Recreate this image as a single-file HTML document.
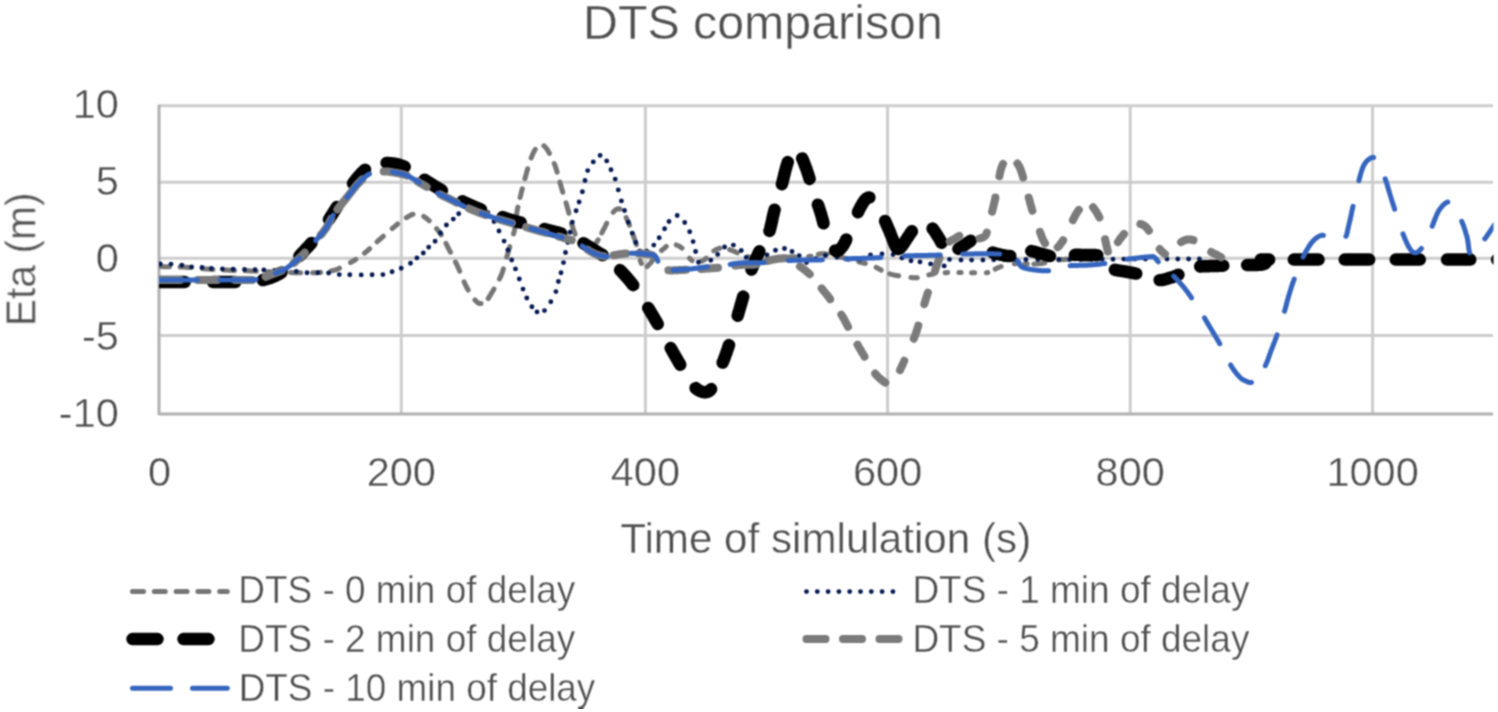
<!DOCTYPE html>
<html><head><meta charset="utf-8"><title>DTS comparison</title>
<style>html,body{margin:0;padding:0;background:#fff;}svg{display:block;}</style></head><body>
<svg width="1498" height="712" viewBox="0 0 1498 712">
<rect width="1498" height="712" fill="#fff"/>
<defs><clipPath id="pc"><rect x="159" y="90" width="1334.5" height="340"/></clipPath><filter id="bl" x="0" y="0" width="1" height="1" color-interpolation-filters="sRGB"><feConvolveMatrix order="3" kernelMatrix="1 2 1 2 4 2 1 2 1" divisor="16" edgeMode="duplicate"/></filter></defs>
<g filter="url(#bl)">
<line x1="159" y1="105.8" x2="1493" y2="105.8" stroke="#cdcdcd" stroke-width="3"/>
<line x1="159" y1="182.3" x2="1493" y2="182.3" stroke="#cdcdcd" stroke-width="3"/>
<line x1="159" y1="258.3" x2="1493" y2="258.3" stroke="#cdcdcd" stroke-width="3"/>
<line x1="159" y1="335.4" x2="1493" y2="335.4" stroke="#cdcdcd" stroke-width="3"/>
<line x1="401.3" y1="105.8" x2="401.3" y2="413.9" stroke="#cdcdcd" stroke-width="3"/>
<line x1="645.4" y1="105.8" x2="645.4" y2="413.9" stroke="#cdcdcd" stroke-width="3"/>
<line x1="887.6" y1="105.8" x2="887.6" y2="413.9" stroke="#cdcdcd" stroke-width="3"/>
<line x1="1130.2" y1="105.8" x2="1130.2" y2="413.9" stroke="#cdcdcd" stroke-width="3"/>
<line x1="1372.6" y1="105.8" x2="1372.6" y2="413.9" stroke="#cdcdcd" stroke-width="3"/>
<line x1="159" y1="413.9" x2="1493" y2="413.9" stroke="#b0b0b0" stroke-width="3"/>
<line x1="159" y1="104.8" x2="159" y2="414.9" stroke="#b0b0b0" stroke-width="3"/>
<text x="583.1" y="38.5" font-family="'Liberation Sans', sans-serif" font-size="48.3" fill="#4f4f4f" text-anchor="start" stroke="#ffffff" stroke-width="0.4" >DTS comparison</text>
<text x="118.8" y="118.0" font-family="'Liberation Sans', sans-serif" font-size="41.5" fill="#4f4f4f" text-anchor="end" stroke="#ffffff" stroke-width="0.4" >10</text>
<text x="118.8" y="195.3" font-family="'Liberation Sans', sans-serif" font-size="41.5" fill="#4f4f4f" text-anchor="end" stroke="#ffffff" stroke-width="0.4" >5</text>
<text x="118.8" y="272.0" font-family="'Liberation Sans', sans-serif" font-size="41.5" fill="#4f4f4f" text-anchor="end" stroke="#ffffff" stroke-width="0.4" >0</text>
<text x="118.8" y="350.0" font-family="'Liberation Sans', sans-serif" font-size="41.5" fill="#4f4f4f" text-anchor="end" stroke="#ffffff" stroke-width="0.4" >-5</text>
<text x="118.8" y="426.8" font-family="'Liberation Sans', sans-serif" font-size="41.5" fill="#4f4f4f" text-anchor="end" stroke="#ffffff" stroke-width="0.4" >-10</text>
<text x="159.6" y="486.3" font-family="'Liberation Sans', sans-serif" font-size="41.5" fill="#4f4f4f" text-anchor="middle" stroke="#ffffff" stroke-width="0.4" >0</text>
<text x="401.3" y="486.3" font-family="'Liberation Sans', sans-serif" font-size="41.5" fill="#4f4f4f" text-anchor="middle" stroke="#ffffff" stroke-width="0.4" >200</text>
<text x="645.4" y="486.3" font-family="'Liberation Sans', sans-serif" font-size="41.5" fill="#4f4f4f" text-anchor="middle" stroke="#ffffff" stroke-width="0.4" >400</text>
<text x="887.6" y="486.3" font-family="'Liberation Sans', sans-serif" font-size="41.5" fill="#4f4f4f" text-anchor="middle" stroke="#ffffff" stroke-width="0.4" >600</text>
<text x="1130.2" y="486.3" font-family="'Liberation Sans', sans-serif" font-size="41.5" fill="#4f4f4f" text-anchor="middle" stroke="#ffffff" stroke-width="0.4" >800</text>
<text x="1372.6" y="486.3" font-family="'Liberation Sans', sans-serif" font-size="41.5" fill="#4f4f4f" text-anchor="middle" stroke="#ffffff" stroke-width="0.4" >1000</text>
<text x="620.2" y="552.5" font-family="'Liberation Sans', sans-serif" font-size="42.6" fill="#4f4f4f" text-anchor="start" stroke="#ffffff" stroke-width="0.4" textLength="411" lengthAdjust="spacingAndGlyphs">Time of simlulation (s)</text>
<text transform="translate(35.4,326.3) rotate(-90)" x="0" y="0" font-family="'Liberation Sans', sans-serif" font-size="42.6" fill="#4f4f4f" stroke="#ffffff" stroke-width="0.4" textLength="133.9" lengthAdjust="spacingAndGlyphs">Eta (m)</text>
<text x="238.2" y="603.2" font-family="'Liberation Sans', sans-serif" font-size="38.7" fill="#4f4f4f" stroke="#ffffff" stroke-width="0.4" textLength="337" lengthAdjust="spacingAndGlyphs">DTS - 0 min of delay</text>
<text x="238.2" y="652.0" font-family="'Liberation Sans', sans-serif" font-size="38.7" fill="#4f4f4f" stroke="#ffffff" stroke-width="0.4" textLength="337" lengthAdjust="spacingAndGlyphs">DTS - 2 min of delay</text>
<text x="238.7" y="700.6" font-family="'Liberation Sans', sans-serif" font-size="38.7" fill="#4f4f4f" stroke="#ffffff" stroke-width="0.4" textLength="356.6" lengthAdjust="spacingAndGlyphs">DTS - 10 min of delay</text>
<text x="912.4" y="603.2" font-family="'Liberation Sans', sans-serif" font-size="38.7" fill="#4f4f4f" stroke="#ffffff" stroke-width="0.4" textLength="337" lengthAdjust="spacingAndGlyphs">DTS - 1 min of delay</text>
<text x="912.4" y="652.0" font-family="'Liberation Sans', sans-serif" font-size="38.7" fill="#4f4f4f" stroke="#ffffff" stroke-width="0.4" textLength="337" lengthAdjust="spacingAndGlyphs">DTS - 5 min of delay</text>
<path d="M132.5,591.6 L227.3,591.6" fill="none" stroke="#767676" stroke-width="5" stroke-dasharray="11 10.8" stroke-linecap="round" stroke-linejoin="round"/>
<path d="M132.5,639.1 L227.3,639.1" fill="none" stroke="#000000" stroke-width="12.5" stroke-dasharray="25 26" stroke-linecap="round" stroke-linejoin="round"/>
<path d="M132.5,688.2 L227.3,688.2" fill="none" stroke="#3565be" stroke-width="5" stroke-dasharray="38 22" stroke-linecap="round" stroke-linejoin="round"/>
<path d="M806.5,591.6 L901.3,591.6" fill="none" stroke="#061a52" stroke-width="4.9" stroke-dasharray="0 10.8" stroke-linecap="round" stroke-linejoin="round"/>
<path d="M806.5,639.1 L901.3,639.1" fill="none" stroke="#7b7b7b" stroke-width="8" stroke-dasharray="19 17.5" stroke-linecap="round" stroke-linejoin="round"/>
<g clip-path="url(#pc)">
<path d="M159.0,266.5L159.7,266.5L160.4,266.6L161.0,266.6L161.8,266.6L162.9,266.6L163.5,266.7L164.2,266.7L165.0,266.7L165.7,266.7L166.4,266.7L167.2,266.7L168.0,266.8L168.9,266.8L169.4,266.8 M180.1,267.0L180.8,267.0L181.9,267.0L183.0,267.1L184.0,267.1L185.1,267.2L186.1,267.2L187.0,267.3L188.0,267.4L189.0,267.4L190.0,267.5L190.9,267.6L191.1,267.6 M202.6,268.7L203.4,268.7L204.4,268.8L205.4,268.9L206.3,269.0L207.3,269.1L208.3,269.1L209.3,269.2L210.3,269.3L211.3,269.3L212.3,269.4L213.0,269.4 M223.9,270.0L224.7,270.0L225.7,270.1L226.7,270.1L227.7,270.1L228.7,270.2L229.7,270.2L230.7,270.3L231.6,270.3L232.6,270.3L233.6,270.4L234.5,270.4 M245.3,270.7L246.3,270.7L247.3,270.8L248.3,270.8L249.3,270.8L250.3,270.9L251.3,270.9L252.3,271.0L253.3,271.0L254.2,271.1L255.2,271.1L256.2,271.2L256.3,271.2 M267.7,271.7L268.7,271.8L269.7,271.8L270.7,271.9L271.7,271.9L272.7,272.0L273.7,272.0L274.7,272.1L275.7,272.1L276.7,272.1L277.7,272.2L278.7,272.2 M290.6,272.6L291.2,272.6L292.2,272.6L293.2,272.7L294.1,272.7L295.1,272.7L296.1,272.7L297.1,272.7L298.2,272.7L299.2,272.8L300.3,272.8L300.6,272.8 M312.6,272.8L313.4,272.8L314.2,272.8L315.1,272.7L315.8,272.7L316.6,272.7L317.3,272.7L318.0,272.6L318.7,272.6L319.3,272.6L320.4,272.5L320.6,272.4 M331.1,270.9L331.8,270.8L332.7,270.6L333.6,270.4L334.5,270.2L335.4,269.9L336.3,269.6L337.2,269.2L338.1,268.9L339.0,268.5L339.5,268.2 M350.5,262.5L351.2,262.2L352.0,261.7L352.8,261.2L353.7,260.7L354.5,260.2L355.4,259.7L355.8,259.4 M364.5,253.1L365.2,252.6L366.0,252.0L366.7,251.3L367.5,250.7L368.2,250.0L368.9,249.4L369.6,248.7 M377.1,241.8L377.5,241.4L378.3,240.7L379.0,240.0L379.8,239.3L380.6,238.7L381.3,238.0L382.0,237.4L382.7,236.8L383.3,236.2 M392.2,228.6L392.7,228.1L393.4,227.5L394.2,226.9L394.9,226.3L395.7,225.7L396.4,225.0L397.1,224.4L397.6,224.0 M406.3,217.7L406.9,217.4L407.7,216.9L408.5,216.4L409.3,216.0L410.0,215.6L410.6,215.3L411.2,215.0L412.0,214.6L412.7,214.3L413.0,214.2 M423.7,216.4L424.4,216.9L425.2,217.4L425.7,217.8L426.3,218.3L426.9,218.7L427.5,219.3L428.2,219.8L428.9,220.5L429.3,220.8 M436.6,228.7L437.2,229.4L437.8,230.2L438.4,231.0L439.0,231.7L439.6,232.5L440.2,233.3L440.7,234.1L441.2,234.8 M446.0,243.4L446.4,244.3L446.9,245.2L447.3,246.1L447.7,247.0L448.2,247.9L448.6,248.7L449.1,249.6L449.5,250.4L450.0,251.3L450.5,252.2L450.5,252.3 M455.5,262.0L455.8,262.6L456.2,263.5L456.7,264.4L457.1,265.3L457.5,266.2L457.9,267.0L458.3,267.9L458.7,268.8L459.1,269.7L459.5,270.6L459.7,271.2 M464.1,281.8L464.4,282.5L464.8,283.4L465.2,284.3L465.6,285.1L466.0,286.0L466.5,286.9L466.9,287.8L467.4,288.6L467.9,289.5L468.2,290.1 M474.9,299.8L475.4,300.4L476.1,301.1L476.7,301.7L477.2,302.3L477.8,302.7L478.5,303.1L479.1,303.3L479.9,303.5L480.7,303.4L481.0,303.4 M488.2,298.5L488.6,297.9L489.2,297.0L489.7,296.1L490.3,295.2L490.8,294.3L491.3,293.4L491.8,292.6L492.3,291.8L492.8,291.0L493.3,290.2L493.8,289.3L493.9,289.1 M499.4,279.1L499.7,278.5L500.1,277.7L500.5,276.8L500.9,275.9L501.3,275.0L501.7,274.1L502.0,273.2L502.4,272.3L502.7,271.4L502.9,270.5L503.2,269.5L503.4,268.9 M506.7,257.2L506.9,256.5L507.2,255.6L507.5,254.7L507.8,253.8L508.0,252.8L508.3,251.9L508.6,251.0L508.8,250.0L509.1,249.1L509.4,248.1L509.7,247.1L509.8,246.6 M513.5,233.9L513.7,233.2L514.0,232.2L514.3,231.0L514.4,230.4L514.5,229.8L514.6,229.0L514.8,228.2L514.9,227.3L515.1,226.4L515.2,225.6 M516.7,213.9L516.8,212.9L517.0,211.9L517.1,211.0L517.3,210.0L517.5,209.0L517.7,208.0L517.9,207.1 M520.1,197.5L520.3,196.6L520.6,195.6L520.8,194.6L521.1,193.6L521.3,192.6L521.5,191.7L521.8,190.8L522.0,189.8L522.3,188.8L522.3,188.7 M524.9,178.7L525.2,177.9L525.4,177.0L525.6,176.1L525.9,175.3L526.1,174.5L526.3,173.7L526.5,173.1L526.6,172.5L526.8,171.9L527.1,170.8L527.4,169.8L527.7,168.8L527.7,168.7 M531.2,158.0L531.5,157.3L531.8,156.4L532.2,155.5L532.5,154.7L532.8,153.9L533.2,153.0L533.7,152.1L534.1,151.3L534.5,150.5L535.0,149.7L535.3,149.3 M543.9,145.8L544.4,146.2L545.0,146.7L545.4,147.2L545.8,147.7L546.3,148.3L546.8,148.9L547.2,149.6L547.7,150.3L548.1,151.1L548.6,151.9L549.1,152.8L549.4,153.4 M554.2,163.5L554.6,164.4L555.0,165.4L555.4,166.6L555.6,167.2L555.8,167.8L556.0,168.5L556.3,169.3L556.5,170.1L556.8,171.0L557.0,171.9L557.1,172.2 M559.9,182.0L560.0,182.7L560.3,183.7L560.6,184.7L560.9,185.7L561.2,186.7L561.4,187.7L561.7,188.6L562.0,189.5L562.3,190.4L562.5,191.4L562.8,192.3L562.8,192.3 M566.0,202.8L566.3,203.7L566.5,204.7L566.8,205.6L567.1,206.6L567.4,207.5L567.6,208.5L567.9,209.4L568.2,210.4L568.4,211.4L568.7,212.4L568.9,213.2 M571.6,223.7L571.9,224.8L572.2,225.7L572.4,226.5L572.7,227.4L572.9,228.2L573.2,229.0L573.4,229.6L573.6,230.2L574.0,231.3L574.4,232.3L574.8,233.4L575.1,234.2 M583.6,246.8L584.3,247.2L585.0,247.5L585.8,247.7L586.5,247.8L586.5,247.8 M595.6,243.3L596.2,242.7L596.6,242.1L597.0,241.6L597.4,241.0L597.9,240.3L598.2,239.8 M601.8,233.0L602.3,232.1L602.7,231.2L603.2,230.2L603.7,229.3L604.1,228.5L604.6,227.6L605.1,226.6L605.5,225.7L606.0,224.7L606.5,223.8L606.7,223.2 M613.2,212.2L613.7,211.7L614.3,211.0L614.9,210.4L615.5,209.9L616.1,209.5L616.8,209.2L617.6,208.9L618.3,208.8L619.1,208.8L619.8,209.0L619.9,209.1 M626.2,217.6L626.7,218.6L627.2,219.7L627.4,220.3L627.6,220.8L627.9,221.4L628.2,222.2L628.6,223.0L628.9,223.8L629.3,224.7L629.5,225.2 M632.9,234.2L633.2,235.1L633.5,236.0L633.8,236.9L634.1,237.8L634.4,238.6L634.7,239.4L634.9,240.0L635.3,241.1L635.6,242.1L635.9,243.1L636.2,244.1L636.3,244.7 M640.2,260.5L640.4,261.2L640.7,262.0L641.2,263.0L641.4,263.5 M647.2,266.5L647.8,265.9L648.5,265.2L649.2,264.4L649.9,263.6L650.6,262.9L651.1,262.3L651.7,261.6L652.3,260.8L652.9,260.0L653.2,259.7 M661.5,250.5L662.1,250.0L662.8,249.4L663.5,248.8L664.3,248.2L665.1,247.5L665.9,246.8L666.3,246.5 M676.3,244.9L677.1,245.3L678.1,245.7L678.9,246.1L679.7,246.5L680.5,247.1L681.3,247.6L682.0,248.2L682.0,248.2 M689.5,258.2L690.1,258.9L690.7,259.5L691.5,260.1L692.1,260.6 M701.7,261.1L702.5,260.8L703.4,260.4L704.2,259.9L704.9,259.4L705.6,258.7L706.3,258.1 M713.8,250.9L714.7,250.4L715.5,249.9L716.3,249.5L717.1,249.1L718.0,248.8L718.9,248.5L719.7,248.3L719.8,248.2 M729.7,249.6L730.7,250.0L731.6,250.3L732.6,250.7L733.6,251.1L734.4,251.4L735.3,251.8L736.1,252.2L737.0,252.6L737.4,252.8 M747.7,256.7L748.6,257.0L749.6,257.2L750.5,257.4L751.5,257.7L752.5,257.9L753.5,258.1L754.5,258.2L755.5,258.4L755.9,258.5 M766.9,259.3L767.7,259.3L768.7,259.3L769.7,259.3L770.6,259.2L771.6,259.2L772.6,259.1L773.5,259.1L774.5,259.0L775.3,259.0 M786.2,257.4L786.8,257.3L787.8,257.2L788.9,257.1L790.0,257.0L790.9,256.9L791.8,256.9L792.8,256.9L793.8,256.8L794.6,256.8 M808.6,256.5L809.4,256.4L810.4,256.3L811.0,256.3 M818.3,254.3L819.3,254.0L820.2,253.9L821.2,253.7L822.3,253.7L823.2,253.7L824.1,253.8L824.9,253.8L825.8,253.9L826.7,254.0L827.3,254.1 M838.1,256.5L838.9,256.7L840.0,257.0L840.9,257.2L841.8,257.4L842.7,257.7L843.7,257.9L844.7,258.2L845.7,258.4L846.8,258.7L846.9,258.7 M858.7,261.8L859.4,262.0L860.2,262.2L861.0,262.4L861.7,262.6L862.8,262.9L863.6,263.1L864.2,263.2L864.8,263.3L865.4,263.4 M876.2,267.4L877.0,267.8L877.9,268.3L878.7,268.7L879.6,269.2L880.5,269.6L881.2,270.1 M889.7,273.8L890.6,274.1L891.6,274.4L892.6,274.6L893.6,274.9L894.5,275.1L895.4,275.3L896.3,275.4L897.3,275.6L898.2,275.7L898.6,275.8 M910.9,277.5L911.8,277.6L912.8,277.7L913.7,277.8L914.7,277.8L915.7,277.8L916.7,277.8L917.3,277.7 M928.8,274.9L929.8,274.6L930.4,274.5L931.0,274.4L931.8,274.3L932.7,274.1L933.2,274.0 M945.1,272.8L945.9,272.7L946.9,272.7L947.7,272.6 M958.9,272.4L960.0,272.4L961.0,272.4L961.1,272.4 M971.6,272.7L972.6,272.7L973.6,272.7L974.5,272.7L974.6,272.7 M986.4,272.8L987.1,272.7L987.8,272.5 M995.2,269.1L995.7,268.9L996.5,268.4L997.3,268.0L998.1,267.7L999.2,267.3L1000.1,266.9L1001.1,266.5L1001.1,266.5 M1014.3,263.8L1015.0,263.7L1015.7,263.7 M1024.8,263.7L1025.5,263.7L1026.5,263.7L1027.2,263.7 M1033.9,263.9L1034.9,263.9L1035.9,263.9L1036.9,263.8L1037.9,263.8L1038.9,263.7L1039.9,263.7L1040.9,263.5L1041.9,263.4L1042.9,263.3L1043.8,263.1L1044.8,262.9L1044.8,262.9 M1058.6,259.9L1059.5,259.8L1060.1,259.7L1060.7,259.6L1061.4,259.6L1062.2,259.5L1063.1,259.5L1064.0,259.4L1064.7,259.4L1065.4,259.3L1066.2,259.3L1067.1,259.3L1068.0,259.3L1068.9,259.2L1069.4,259.2 M1080.4,259.1L1081.3,259.1L1082.5,259.1L1083.6,259.1L1084.8,259.1L1086.0,259.1L1087.2,259.0L1088.3,259.0L1089.4,259.0L1090.5,259.0L1091.2,259.0" fill="none" stroke="#767676" stroke-width="5" stroke-linecap="round" stroke-linejoin="round"/>
<path d="M160.3,264.0h0.01 M171.0,264.1h0.01 M181.8,265.3h0.01 M191.6,266.9h0.01 M202.0,267.5h0.01 M211.4,268.5h0.01 M222.4,269.0h0.01 M233.2,269.3h0.01 M244.5,269.5h0.01 M255.1,269.7h0.01 M263.8,270.0h0.01 M274.6,270.4h0.01 M285.4,270.8h0.01 M296.3,271.4h0.01 M307.0,272.7h0.01 M317.8,272.8h0.01 M328.6,273.0h0.01 M339.3,274.6h0.01 M349.8,274.8h0.01 M361.2,274.9h0.01 M372.1,274.8h0.01 M382.9,274.6h0.01 M392.1,271.8h0.01 M401.2,268.2h0.01 M410.5,263.3h0.01 M416.9,257.9h0.01 M423.3,253.0h0.01 M428.7,247.1h0.01 M435.1,241.2h0.01 M440.5,233.0h0.01 M446.4,225.0h0.01 M453.3,219.1h0.01 M458.7,213.7h0.01 M468.1,208.8h0.01 M478.6,207.9h0.01 M487.9,212.8h0.01 M494.0,221.6h0.01 M499.0,231.0h0.01 M504.1,241.1h0.01 M507.9,250.0h0.01 M511.7,260.0h0.01 M515.5,268.9h0.01 M519.3,279.0h0.01 M523.0,289.1h0.01 M526.8,298.0h0.01 M531.9,306.8h0.01 M537.0,311.9h0.01 M544.5,310.6h0.01 M550.8,301.8h0.01 M555.9,291.6h0.01 M558.4,281.5h0.01 M561.0,272.7h0.01 M563.5,262.6h0.01 M565.5,252.5h0.01 M567.8,242.4h0.01 M570.0,232.3h0.01 M572.3,222.2h0.01 M576.1,210.8h0.01 M579.1,202.0h0.01 M582.4,191.8h0.01 M585.0,180.5h0.01 M587.7,170.6h0.01 M593.3,161.9h0.01 M600.1,155.4h0.01 M606.7,160.9h0.01 M611.0,169.8h0.01 M615.2,179.1h0.01 M618.3,189.9h0.01 M621.4,200.9h0.01 M624.5,210.5h0.01 M628.3,222.2h0.01 M632.2,233.1h0.01 M635.8,242.4h0.01 M639.8,250.9h0.01 M646.7,251.3h0.01 M653.8,245.1h0.01 M659.2,237.7h0.01 M664.6,228.8h0.01 M669.0,221.5h0.01 M677.2,215.5h0.01 M684.7,222.5h0.01 M689.7,231.8h0.01 M693.1,241.6h0.01 M695.6,251.5h0.01 M698.5,262.3h0.01 M710.8,260.3h0.01 M717.7,254.4h0.01 M724.6,247.0h0.01 M733.4,245.1h0.01 M741.3,250.5h0.01 M746.2,257.4h0.01 M756.8,258.7h0.01 M767.0,255.0h0.01 M775.5,250.3h0.01 M784.5,248.5h0.01 M792.0,251.5h0.01 M799.2,255.6h0.01 M806.5,262.5h0.01 M815.8,258.7h0.01 M825.5,255.5h0.01 M836.9,257.2h0.01 M848.3,259.2h0.01 M859.8,259.4h0.01 M870.5,254.9h0.01 M882.0,254.0h0.01 M893.0,254.6h0.01 M901.9,258.0h0.01 M911.0,260.7h0.01 M920.0,261.9h0.01 M930.6,263.9h0.01 M944.2,265.9h0.01 M949.5,259.4h0.01 M961.0,260.0h0.01 M971.6,260.1h0.01 M982.9,260.0h0.01 M993.7,259.7h0.01 M1004.4,259.5h0.01 M1015.1,259.5h0.01 M1025.9,259.5h0.01 M1037.8,259.5h0.01 M1048.4,259.5h0.01 M1058.9,259.5h0.01 M1069.8,259.5h0.01 M1080.6,259.4h0.01 M1091.4,259.3h0.01 M1102.2,259.3h0.01 M1113.0,259.2h0.01 M1123.8,259.1h0.01 M1134.6,259.1h0.01 M1145.4,259.0h0.01 M1156.2,259.0h0.01 M1167.0,259.0h0.01 M1177.8,259.0h0.01 M1188.6,259.0h0.01 M1199.4,259.0h0.01" fill="none" stroke="#061a52" stroke-width="4.9" stroke-linecap="round" stroke-linejoin="round"/>
<path d="M159.0,282.0L159.8,282.0L160.7,282.0L161.3,282.0L162.0,282.0L162.8,282.0L163.5,282.0L164.3,282.0L165.2,282.0L166.1,282.0L167.0,282.0L167.9,282.0L168.8,282.0L169.8,282.0L170.8,282.0L171.9,282.0L172.9,282.0L174.0,282.0L175.1,282.0L176.2,282.0L177.3,282.0L178.4,282.0L179.5,282.0L180.7,282.0L181.8,282.0L183.0,282.0L184.1,282.0L184.7,282.0 M213.0,282.0L213.8,282.0L214.9,282.0L216.0,282.0L217.1,282.0L218.1,282.0L219.2,282.0L220.3,282.0L221.4,282.0L222.4,282.0L223.5,282.0L224.5,282.0L225.5,282.0L226.6,282.0L227.6,282.0L228.6,282.0L229.5,282.0L230.5,282.0L231.4,282.0L232.4,282.0L233.3,282.0L234.1,282.0L235.0,282.0L235.4,282.0 M262.8,280.1L263.6,279.9L264.5,279.6L265.5,279.4L266.4,279.1L267.3,278.9L268.2,278.6L269.1,278.3L270.0,278.0L270.9,277.7L271.8,277.4L272.7,277.0L273.6,276.6L274.5,276.2L275.4,275.8L276.2,275.4L277.1,275.0L277.9,274.5L278.8,274.1L279.6,273.6L280.4,273.1L281.2,272.6L281.4,272.5 M299.4,256.0L300.0,255.3L300.7,254.6L301.3,253.9L302.0,253.2L302.7,252.5L303.3,251.8L304.0,251.1L304.7,250.4L305.3,249.6L306.0,248.9L306.7,248.2L307.3,247.5L308.0,246.8L308.7,246.1L309.3,245.4L310.0,244.7L310.7,244.0L311.3,243.2L311.5,243.0 M329.0,219.5L329.5,218.7L330.0,217.8L330.5,217.0L331.1,216.1L331.6,215.3L332.2,214.4L332.7,213.6L333.3,212.7L333.8,211.8L334.4,210.9L335.0,210.0L335.5,209.2L336.0,208.4L336.5,207.6L336.9,207.0 M353.0,183.4L353.5,182.8L354.1,182.0L354.6,181.2L355.2,180.5L355.8,179.7L356.3,179.0L356.9,178.3L357.4,177.7L358.0,177.0L358.7,176.1L359.5,175.3L360.2,174.5L360.9,173.7L361.6,173.0L362.4,172.3L363.1,171.6L363.8,170.9L364.5,170.3L365.1,169.7 M386.6,162.9L387.5,163.0L388.5,163.0L389.4,163.1L390.4,163.2L391.3,163.3L392.3,163.4L393.2,163.5L394.2,163.7L395.1,163.8L396.1,164.0L397.0,164.3L398.0,164.5L398.9,164.7L399.8,165.0L400.6,165.3L401.5,165.5L402.3,165.8L403.2,166.2L404.1,166.5L404.7,166.8 M424.6,179.7L425.3,180.1L426.1,180.7L426.9,181.2L427.8,181.7L428.6,182.3L429.4,182.8L430.3,183.3L431.1,183.9L432.0,184.4L432.8,184.9L433.6,185.5L434.5,186.0L435.3,186.5L436.2,187.0L437.0,187.5L437.9,188.0L438.7,188.5L439.6,189.0L440.4,189.5L441.3,190.0L441.9,190.4 M462.4,201.3L463.3,201.7L464.2,202.2L465.1,202.6L466.0,203.0L466.9,203.4L467.8,203.8L468.6,204.2L469.5,204.6L470.4,205.0L471.3,205.4L472.2,205.8L473.1,206.2L474.0,206.6L474.9,207.0L475.8,207.4L476.7,207.8L477.7,208.2L478.6,208.5L479.6,208.9L480.5,209.3L481.0,209.5 M502.6,217.1L503.2,217.3L504.1,217.6L505.0,217.9L506.0,218.2L506.9,218.6L507.8,218.9L508.7,219.2L509.6,219.5L510.6,219.8L511.5,220.1L512.5,220.4L513.4,220.6L514.3,220.9L515.3,221.2L516.2,221.4L517.1,221.7L518.1,221.9L519.0,222.2L520.0,222.4L520.7,222.6 M544.5,229.1L545.5,229.4L546.5,229.6L547.4,229.9L548.4,230.1L549.3,230.4L550.3,230.6L551.3,230.9L552.3,231.1L553.3,231.4L554.3,231.6L555.2,231.9L556.2,232.1L557.2,232.4L558.1,232.6L559.1,232.9L560.0,233.1L560.9,233.4L561.2,233.5 M583.5,243.2L584.4,243.7L585.1,244.2L585.9,244.7L586.7,245.2L587.6,245.7L588.4,246.3L589.2,246.8L590.1,247.3L590.9,247.9L591.8,248.4L592.6,249.0L593.4,249.5L594.2,250.0L595.0,250.5L595.9,251.0L596.8,251.6L597.6,252.1L598.5,252.6L599.4,253.1L600.2,253.6L601.1,254.1L601.9,254.6L602.7,255.1 M620.1,270.1L620.5,270.6L621.1,271.2L621.7,271.8L622.3,272.5L622.9,273.1L623.5,273.8L624.1,274.5L624.8,275.2L625.5,275.9L626.1,276.7L626.8,277.5L627.5,278.2L628.2,279.0L628.9,279.8L629.6,280.7L630.3,281.5L630.9,282.4L631.6,283.2L632.3,284.1L633.0,285.0L633.2,285.2 M648.2,307.9L648.6,308.5L649.1,309.4L649.6,310.2L650.2,311.1L650.7,312.0L651.2,312.9L651.7,313.7L652.3,314.6L652.8,315.5L653.3,316.4L653.8,317.2L654.3,318.1L654.8,319.0L655.3,319.9L655.8,320.7L656.3,321.6L656.8,322.4L657.3,323.2L657.7,324.0 M670.7,348.1L671.3,349.1L671.8,349.9L672.2,350.8L672.7,351.7L673.2,352.5L673.7,353.4L674.2,354.3L674.7,355.2L675.3,356.1L675.8,357.0L676.3,357.9L676.8,358.7L677.3,359.6L677.8,360.5L678.3,361.4L678.8,362.2L679.3,363.1L679.8,363.9L680.2,364.7 M695.6,388.1L696.2,388.6L697.0,389.2L697.8,389.8L698.7,390.3L699.5,390.8L700.3,391.1L701.1,391.5L701.9,391.7L702.6,391.9L703.5,392.1L704.5,392.2L705.4,392.2L706.3,392.1L707.2,391.9L708.1,391.6L708.9,391.1L709.8,390.5L710.7,389.6L711.1,389.1L711.1,389.1 M722.7,362.6L722.9,362.0L723.3,361.1L723.6,360.2L724.0,359.3L724.3,358.4L724.6,357.5L725.0,356.6L725.3,355.7L725.6,354.8L726.0,353.8L726.3,352.9L726.6,352.0L727.0,351.0L727.3,350.0L727.7,349.0L728.0,348.1L728.3,347.1L728.7,346.0L729.0,345.1 M737.7,315.7L737.9,315.0L738.2,314.1L738.4,313.1L738.7,312.1L739.0,311.2L739.3,310.2L739.5,309.3L739.8,308.3L740.1,307.4L740.4,306.4L740.6,305.5L740.9,304.6L741.2,303.7L741.4,302.7L741.7,301.8L742.0,300.9L742.2,300.0L742.5,299.1L742.8,298.1L743.0,297.2L743.2,296.6 M751.5,269.6L751.7,269.1L752.1,268.1L752.5,267.1L752.9,266.1L753.3,265.1L753.7,264.1L754.1,263.1L754.6,262.1L755.0,261.1L755.4,260.2L755.8,259.2L756.3,258.3L756.7,257.3L757.1,256.4L757.5,255.5L757.9,254.6L758.3,253.8L758.6,253.0L759.0,252.2L759.4,251.4L759.4,251.3 M769.5,230.9L769.7,230.3L770.0,229.5L770.2,228.7L770.4,227.8L770.6,226.9L770.8,225.9L771.1,225.0L771.3,224.0L771.5,223.0L771.8,221.9L772.0,220.9L772.2,219.9L772.4,218.8L772.6,217.8L772.9,216.8L773.1,215.8L773.3,214.8L773.6,213.8L773.8,212.9L774.0,212.0L774.3,211.0L774.5,210.0L774.6,209.7 M781.9,184.2L782.1,183.4L782.4,182.5L782.6,181.5L782.9,180.5L783.1,179.5L783.4,178.5L783.6,177.5L783.9,176.5L784.1,175.4L784.4,174.4L784.6,173.4L784.8,172.5L785.1,171.5L785.3,170.6L785.5,169.7L785.8,168.8L786.0,168.0L786.2,167.4L786.3,166.8L786.7,165.7L787.0,164.7L787.3,163.7L787.6,162.7L787.8,162.1 M802.2,158.4L802.5,159.1L802.9,159.9L803.3,160.8L803.6,161.7L804.0,162.6L804.4,163.6L804.7,164.6L805.1,165.6L805.5,166.6L805.8,167.5L806.2,168.4L806.5,169.3L806.8,170.2L807.1,171.1L807.4,172.0L807.7,172.9L808.0,173.8L808.3,174.8L808.6,175.7L808.9,176.6L809.2,177.5L809.5,178.5L809.6,178.9 M817.9,204.7L818.2,205.5L818.5,206.3L818.8,207.2L819.1,208.1L819.4,208.9L819.7,209.9L820.0,210.8L820.3,211.8L820.7,212.9L821.0,214.0L821.2,214.8L821.5,215.7L821.7,216.5L822.0,217.5L822.2,218.4L822.5,219.4L822.8,220.4L823.0,221.4L823.3,222.4L823.5,223.3 M835.1,250.6L835.8,250.9L836.5,251.0L837.2,251.0L837.9,250.8L838.6,250.4L839.3,249.9L840.0,249.3L840.7,248.6L841.3,247.8L842.0,247.0L842.5,246.4L843.0,245.7L843.4,244.9L843.9,244.2L844.4,243.3L844.8,242.5L845.3,241.6L845.8,240.6L846.2,239.6L846.3,239.5 M858.0,212.2L858.2,211.6L858.6,210.8L859.0,210.0L859.5,209.0L860.0,208.0L860.5,207.0L861.0,206.1L861.6,205.2L862.1,204.3L862.6,203.4L863.1,202.6L863.6,201.9L864.1,201.2L864.5,200.6L865.0,200.0L865.7,199.3L866.3,198.7L866.9,198.3L867.5,198.0L868.1,197.7L868.7,197.6L869.3,197.5L869.4,197.5 M885.1,221.0L885.4,221.7L885.8,222.6L886.2,223.6L886.6,224.5L887.0,225.4L887.4,226.4L887.8,227.3L888.2,228.2L888.6,229.1L889.0,230.0L889.4,231.0L889.8,231.9L890.2,232.9L890.6,234.0L891.0,235.0L891.4,236.0L891.8,237.0L892.2,238.0L892.5,239.0L892.9,239.9L893.3,240.9L893.6,241.7L893.9,242.6L894.3,243.3L894.6,244.1L894.9,244.7L895.3,245.6L895.7,246.5L896.1,247.3L896.5,247.9L896.9,248.5L897.6,248.9L898.2,249.0L898.9,248.9L899.6,248.5L900.1,248.1L900.6,247.6L901.1,247.0L901.7,246.4L902.2,245.7L902.7,245.1L903.2,244.3L903.8,243.5L904.3,242.7L904.9,241.8L905.4,240.9L906.0,240.0L906.6,239.1L907.2,238.2L907.7,237.4L908.3,236.6L908.8,235.8L909.4,234.9L909.9,234.1L910.5,233.3L911.0,232.5L911.6,231.7L911.9,231.3 M932.6,228.6L933.2,229.3L933.8,230.2L934.4,231.0L935.0,231.9L935.6,232.8L936.1,233.7L936.7,234.6L937.3,235.4L937.8,236.2L938.3,237.1L938.9,238.0L939.4,238.9L939.9,239.8L940.4,240.7L940.9,241.6L941.4,242.4L941.5,242.7 M958.4,248.9L959.0,248.5L959.9,248.0L960.8,247.4L961.7,246.8L962.6,246.3L963.4,245.7L964.3,245.2L965.1,244.6L966.0,244.0L966.8,243.4L967.7,242.8L968.5,242.2L969.4,241.6L970.2,241.1L970.7,240.8 M992.8,252.5L993.8,252.9L994.7,253.3L995.6,253.5L996.5,253.8L997.5,254.0L998.5,254.2L999.5,254.4L1000.4,254.6L1001.3,254.8L1002.2,255.0L1003.2,255.2L1004.1,255.4L1005.1,255.6L1006.1,255.8L1007.1,255.9L1008.1,256.0L1009.0,256.0L1010.0,256.0L1010.2,256.0 M1031.3,251.1L1032.3,251.3L1033.2,251.5L1034.2,251.7L1035.1,252.0L1036.1,252.3L1037.1,252.6L1038.1,252.9L1039.1,253.2L1040.1,253.5L1041.0,253.7L1042.0,254.0L1043.0,254.2L1044.0,254.5L1045.0,254.8L1046.0,255.1L1047.0,255.3L1048.0,255.6L1049.0,255.9L1050.0,256.1 M1074.9,254.9L1075.6,254.8L1076.5,254.8L1077.5,254.8L1078.6,254.8L1079.6,254.8L1080.7,254.9L1081.7,254.9L1082.7,254.9L1083.8,254.9L1084.8,254.9L1085.7,255.0L1086.7,255.0L1087.6,255.0L1088.6,255.0L1089.7,255.0L1090.8,255.0L1091.8,255.0L1092.9,255.1L1093.9,255.1L1094.9,255.1L1095.9,255.1L1096.8,255.2L1097.3,255.2 M1114.9,269.8L1115.6,270.0L1116.6,270.1L1117.7,270.3L1118.7,270.5L1119.8,270.6L1120.9,270.8L1121.9,271.0L1123.0,271.1L1124.0,271.3L1125.0,271.5L1126.0,271.7L1126.9,271.9L1127.9,272.1L1128.8,272.2L1129.7,272.4L1130.7,272.6L1131.6,272.7L1132.5,272.9L1133.5,273.1L1134.5,273.3L1135.4,273.5L1136.2,273.6 M1159.7,280.1L1160.8,280.0L1161.8,280.0L1162.8,279.8L1163.8,279.6L1164.8,279.4L1165.7,279.2L1166.6,278.9L1167.5,278.6L1168.4,278.3L1169.3,278.0L1170.1,277.8L1171.0,277.5L1172.0,277.2L1173.0,276.9L1174.0,276.6L1174.9,276.2L1175.8,275.9L1176.7,275.5L1177.6,275.1L1178.4,274.7L1178.4,274.7 M1200.2,266.5L1200.8,266.4L1201.7,266.4L1202.6,266.3L1203.5,266.3L1204.5,266.3L1205.5,266.2L1206.5,266.2L1207.5,266.2L1208.5,266.2L1209.5,266.1L1210.6,266.1L1211.6,266.1L1212.6,266.1L1213.6,266.0L1214.5,266.0L1215.5,266.0L1216.5,265.9L1217.5,265.9L1218.5,265.9L1219.5,265.8L1220.5,265.8L1221.5,265.8L1222.5,265.7L1223.3,265.7 M1247.1,265.1L1247.9,265.1L1248.9,265.1L1250.0,265.1L1251.0,265.1L1251.9,265.1L1252.9,265.1L1253.8,265.1L1254.6,265.0L1255.6,265.0L1256.8,264.9L1257.9,264.9L1258.9,264.8L1259.9,264.8L1260.8,264.7L1261.7,264.6L1262.5,264.4L1263.3,264.2L1264.0,264.0L1264.8,263.6L1265.4,263.1L1265.9,262.5L1266.4,261.9L1266.9,261.2L1267.4,260.6L1268.1,260.2L1269.0,259.8L1268.0,259.5L1267.3,259.5L1266.4,259.5L1265.4,259.4L1264.4,259.4L1263.5,259.4L1262.6,259.4L1261.8,259.4L1260.9,259.5L1261.6,259.5L1262.6,259.5L1264.0,259.6L1266.0,259.6L1268.6,259.6L1269.2,259.6 M1293.8,259.6L1294.4,259.6L1295.2,259.6L1296.0,259.6L1296.8,259.6L1297.6,259.6L1298.4,259.6L1299.3,259.6L1300.1,259.6L1300.9,259.6L1301.8,259.6L1302.7,259.6L1303.5,259.6L1304.4,259.6L1305.3,259.6L1306.2,259.6L1307.1,259.6L1308.1,259.6L1309.0,259.6L1309.9,259.6L1310.9,259.6L1311.8,259.6L1312.8,259.6L1313.7,259.6L1314.7,259.6L1315.7,259.6L1316.7,259.6L1317.7,259.6L1318.6,259.6 M1344.7,259.6L1345.8,259.6L1346.9,259.6L1348.1,259.6L1349.2,259.6L1350.4,259.6L1351.6,259.6L1352.7,259.6L1353.9,259.6L1355.1,259.6L1356.3,259.6L1357.4,259.6L1358.6,259.6L1359.8,259.6L1361.0,259.6L1362.2,259.6L1363.4,259.6L1364.6,259.6L1365.8,259.6L1366.4,259.6L1367.0,259.6L1367.6,259.6L1368.2,259.6L1368.8,259.6L1369.2,259.6 M1395.7,259.6L1396.8,259.6L1397.4,259.6L1398.0,259.6L1398.6,259.6L1399.2,259.6L1399.8,259.6L1400.4,259.6L1401.0,259.6L1401.6,259.6L1402.2,259.6L1402.8,259.6L1403.4,259.6L1404.0,259.6L1404.6,259.6L1405.2,259.6L1405.8,259.6L1406.4,259.6L1407.1,259.6L1407.7,259.6L1408.3,259.6L1408.9,259.6L1409.5,259.6L1410.1,259.6L1411.3,259.6L1412.5,259.6L1413.6,259.6L1414.8,259.6L1416.0,259.6L1417.2,259.6L1418.4,259.6L1419.6,259.6L1419.8,259.6 M1447.0,259.6L1447.8,259.6L1448.9,259.6L1449.9,259.6L1451.0,259.6L1452.0,259.6L1453.0,259.6L1454.1,259.6L1455.1,259.6L1456.1,259.6L1457.1,259.6L1458.1,259.6L1459.1,259.6L1460.1,259.6L1461.1,259.6L1462.1,259.6L1463.0,259.6L1464.0,259.6L1465.0,259.6L1465.9,259.6L1466.8,259.6L1467.8,259.6L1468.7,259.6L1469.6,259.6L1470.3,259.6 M1497.1,259.6L1497.8,259.6L1499.2,259.6L1500.7,259.6L1502.0,259.6L1503.4,259.6L1504.6,259.6L1505.9,259.6L1507.0,259.6L1508.2,259.6L1509.3,259.6L1510.3,259.6L1511.3,259.6L1512.3,259.6L1513.2,259.6L1514.1,259.6L1514.9,259.6L1515.7,259.6L1516.5,259.6L1517.2,259.6L1517.9,259.6L1518.5,259.6L1519.1,259.6L1520.3,259.6L1521.3,259.6L1522.2,259.6L1523.1,259.6L1523.8,259.6" fill="none" stroke="#000000" stroke-width="12.5" stroke-linecap="round" stroke-linejoin="round"/>
<path d="M159.0,280.0L159.8,280.0L160.7,280.0L161.3,280.0L162.0,280.0L162.8,280.0L163.5,280.0L164.3,280.0L165.2,280.0L166.1,280.0L167.0,280.0L167.9,280.0L168.8,280.0L169.8,280.0L170.8,280.0L171.9,280.0L172.9,280.0L174.0,280.0L175.1,280.0L176.2,280.0L177.3,280.0L178.4,280.0L179.5,280.0L180.1,280.0 M197.8,280.0L198.5,280.0L199.5,280.0L200.5,280.0L201.5,280.0L202.5,280.0L203.6,280.0L204.6,280.0L205.7,280.0L206.7,280.0L207.8,280.0L208.9,280.0L209.9,280.0L211.0,280.0L212.1,280.0L213.2,280.0L214.3,280.0L215.3,280.0L216.4,280.0L217.2,280.0 M234.8,280.0L235.7,280.0L236.6,280.0L237.4,280.0L238.2,280.0L238.9,280.0L239.6,280.0L240.8,280.0L241.6,280.0L242.3,280.0L243.0,280.0L243.7,280.0L244.3,280.0L244.9,280.0L246.1,280.0L247.1,280.0L248.1,280.0L249.1,280.0L249.9,280.0L250.7,280.0L251.5,280.0L252.2,280.0 M265.6,276.9L266.4,276.6L267.3,276.3L268.2,275.9L269.1,275.5L270.0,275.2L271.0,274.8L271.9,274.5L272.8,274.1L273.6,273.8L274.5,273.5L275.4,273.2L276.3,272.8L277.2,272.5L278.1,272.2L279.0,271.8L279.9,271.4L280.8,271.1L281.7,270.6L281.8,270.6 M293.7,262.9L294.4,262.4L295.2,261.7L295.9,261.1L296.7,260.4L297.5,259.7L298.3,259.0L299.0,258.3L299.8,257.6L300.6,256.9L301.3,256.3L302.0,255.6L302.6,254.9L303.3,254.2L304.0,253.5L304.7,252.8L304.8,252.7 M320.8,234.9L321.3,234.4L321.9,233.7L322.5,233.0L323.1,232.2L323.6,231.5L324.2,230.7L324.8,229.9L325.4,229.1L325.9,228.3L326.4,227.6L326.9,226.8L327.3,226.0L327.8,225.2L328.2,224.3L328.7,223.5L329.1,222.7L329.6,221.8L330.0,221.0L330.5,220.1L330.9,219.2L331.0,219.0 M337.4,209.4L338.0,208.7L338.6,207.8L339.2,207.0L339.9,206.2L340.6,205.3L341.2,204.5L341.9,203.7L342.5,202.8L343.2,202.0L343.9,201.2L344.5,200.4L345.2,199.6L345.8,198.8L346.4,198.0L347.0,197.3L347.6,196.5L348.2,195.8L348.7,195.1L349.4,194.3L350.1,193.4L350.8,192.5L351.5,191.6L352.2,190.8L352.8,189.9L353.4,189.1L354.1,188.4L354.7,187.6L355.3,186.9L355.9,186.1L356.5,185.4L357.0,184.7L357.6,184.1L358.3,183.4L358.9,182.7L359.5,182.1L360.3,181.3L361.0,180.6L361.8,179.8L362.2,179.4 M383.7,171.5L384.5,171.5L385.5,171.5L386.4,171.5L387.3,171.6L388.2,171.6L389.2,171.7L390.1,171.9L391.0,172.0L392.0,172.1L393.0,172.3L394.0,172.5L394.9,172.7L395.8,172.8L396.7,173.0L397.6,173.1L398.6,173.3L399.5,173.5L400.5,173.7L401.4,173.9L402.4,174.2L403.4,174.4L404.4,174.7L405.4,175.0L406.4,175.4L406.7,175.5 M417.6,181.5L418.2,181.8L419.0,182.4L419.9,182.9L420.8,183.4L421.7,183.9L422.5,184.4L423.4,184.9L424.2,185.4L425.1,185.9L425.9,186.4L426.7,186.9 M440.5,194.5L441.4,195.0L442.2,195.4L443.1,195.9L444.0,196.3L444.9,196.7L445.8,197.2L446.7,197.6L447.6,198.0L448.5,198.5L449.4,198.9L450.3,199.3L451.2,199.8L452.0,200.2L452.9,200.7L453.8,201.1L454.6,201.5L455.5,202.0L456.4,202.4L456.8,202.6 M468.7,208.4L469.6,208.8L470.5,209.2L471.3,209.5L472.2,209.9L473.1,210.3L474.0,210.6L474.9,211.0L475.8,211.3L476.7,211.7L477.6,212.1L478.6,212.4L479.5,212.8L480.5,213.1L481.4,213.5L482.3,213.8L483.3,214.1L484.2,214.4L485.1,214.8L486.1,215.1L486.2,215.1 M498.6,219.2L499.5,219.5L500.4,219.8L501.4,220.0L502.3,220.3L503.2,220.6L504.1,220.8L505.0,221.1L505.9,221.4L506.8,221.6L507.7,221.9L508.6,222.1L509.6,222.4L510.5,222.7L511.5,223.0L511.9,223.1 M526.2,227.2L527.2,227.5L528.2,227.8L529.2,228.1L530.1,228.4L531.1,228.6L532.0,228.9L533.0,229.2L533.9,229.5L534.9,229.7L535.9,230.0L536.8,230.3L537.8,230.5L538.7,230.8L539.7,231.1L540.6,231.3L541.6,231.6L542.6,231.9L543.5,232.1L544.5,232.4L545.4,232.7L545.9,232.8 M558.7,236.5L559.4,236.7L560.4,237.0L561.4,237.2L562.3,237.5L563.2,237.8L564.0,238.0L564.9,238.3L565.6,238.5L566.7,238.8L567.3,239.0L567.9,239.2L569.0,239.5L570.0,239.7L570.9,240.0L571.7,240.2L571.7,240.2 M587.6,249.7L588.4,250.2L589.2,250.7L590.0,251.2L590.9,251.7L591.7,252.2L592.6,252.6L593.4,253.0L594.3,253.4L595.2,253.8L596.1,254.2L597.0,254.5L597.9,254.8L598.8,255.1L599.7,255.3L600.6,255.6L601.5,255.8L602.5,256.0L603.4,256.2L604.0,256.3 M613.7,255.3L614.6,255.2L615.4,255.0L616.3,254.9L617.1,254.7L618.0,254.6L618.9,254.4L619.8,254.2L620.8,254.1L621.8,253.9L622.9,253.8L624.0,253.7L625.2,253.6L625.8,253.5L626.1,253.5 M638.9,253.5L639.8,253.5L640.9,253.6L641.9,253.6L642.9,253.7L643.8,253.7L644.7,253.8L645.6,253.9L646.3,254.0L647.5,254.1L648.2,254.2L648.8,254.3L649.4,254.4L650.5,254.7L651.4,254.9L652.2,255.3L652.9,255.6L653.2,255.8 M668.4,270.3L669.2,270.3L670.0,270.4L670.9,270.4L671.8,270.4L672.7,270.4L673.7,270.3L674.6,270.3L675.6,270.3L676.7,270.2L677.7,270.2L678.8,270.1L679.9,270.1L681.0,270.0L682.1,269.9L683.2,269.9L684.3,269.8L685.5,269.7L686.0,269.7 M701.2,268.9L702.0,268.9L703.0,268.8L704.1,268.7L705.2,268.7L706.2,268.6L707.3,268.5L708.4,268.5L709.4,268.4L710.5,268.3L711.5,268.3L712.6,268.2L713.6,268.1L714.6,268.0L715.5,268.0L716.5,267.9L717.4,267.8L718.0,267.8 M735.2,265.6L736.1,265.5L737.0,265.3L737.8,265.2L738.7,265.1L739.6,265.0L740.5,265.0L741.6,264.9L742.7,264.8L743.7,264.8L744.7,264.8L745.7,264.8L746.7,264.8L747.7,264.8L748.6,264.8L749.6,264.8L750.5,264.8L751.4,264.8L752.3,264.8L753.2,264.7L754.1,264.6L755.0,264.5L755.9,264.3 M767.2,261.0L767.9,260.8L768.9,260.5L769.9,260.3L770.9,260.1L771.9,259.9L772.9,259.7L773.9,259.4L774.9,259.3L775.9,259.1L776.8,258.9L777.8,258.8L778.7,258.6L779.6,258.5L780.5,258.5L781.6,258.4L782.6,258.3L783.6,258.2L784.5,258.2L785.1,258.2 M800.0,266.5L800.8,267.1L801.5,267.6L802.3,268.2L803.1,268.7L803.9,269.3L804.7,269.9L805.4,270.5L806.2,271.2L807.0,271.8L807.8,272.5L808.6,273.2L809.4,273.9L809.7,274.2 M821.7,288.4L822.2,289.0L822.8,289.8L823.5,290.6L824.1,291.3L824.7,292.1L825.2,292.8L825.8,293.5L826.4,294.2L827.0,294.9L827.5,295.7L828.1,296.4L828.8,297.2L829.4,298.1L830.1,298.9L830.2,299.2 M841.3,314.6L841.7,315.2L842.3,316.1L842.8,317.0L843.3,317.9L843.8,318.7L844.3,319.5L844.7,320.3L845.1,321.1L845.5,321.9L845.9,322.7L846.3,323.5L846.7,324.3L847.2,325.2L847.6,326.1L848.0,326.8 M857.5,344.6L857.9,345.3L858.4,346.2L858.9,347.1L859.4,348.0L859.9,348.8L860.4,349.7L860.9,350.5L861.4,351.3L861.8,352.1L862.3,352.9L862.8,353.7L863.3,354.5L863.8,355.3L864.3,356.2L864.5,356.6 M875.2,373.6L875.8,374.3L876.5,375.2L877.2,375.9L877.9,376.7L878.6,377.3L879.3,378.0L879.9,378.6L880.6,379.1L881.2,379.6L881.8,380.1L882.5,380.6L883.3,381.2L883.9,381.7L884.6,382.2L885.2,382.5L885.3,382.6 M900.0,370.2L900.3,369.6L900.7,368.7L901.1,367.7L901.6,366.8L902.0,365.8L902.4,364.9L902.9,363.9L903.3,363.0L903.7,362.0L904.2,361.0L904.3,360.7 M913.8,338.8L914.1,337.9L914.5,337.0L914.8,336.1L915.1,335.3L915.4,334.4L915.8,333.5L916.1,332.6L916.4,331.7L916.7,330.8L917.0,329.9L917.3,328.9L917.6,327.9L917.9,326.9L918.2,326.0L918.3,325.6 M924.3,304.1L924.6,303.1L924.9,302.1L925.2,301.2L925.5,300.2L925.7,299.4L926.0,298.5L926.3,297.6L926.6,296.7L926.8,295.8L927.1,294.9L927.4,294.0L927.7,293.1L927.9,292.7 M934.9,271.3L935.2,270.3L935.4,269.5L935.7,268.6L936.0,267.7L936.3,266.8L936.6,265.9L936.9,265.0L937.2,264.1L937.5,263.2L937.9,262.2L938.3,261.2L938.6,260.4L939.0,259.5L939.4,258.5L939.5,258.3 M949.7,241.5L950.3,241.1L951.1,240.6L951.9,240.2L952.7,239.8L953.5,239.4L954.2,238.9L955.0,238.5L955.9,237.9L956.9,237.3L957.8,236.8L958.7,236.2L959.3,235.9 M979.6,238.4L980.4,238.3L981.3,238.0L982.3,237.7L983.1,237.4L983.9,236.9L984.7,236.3L985.3,235.7L985.7,235.1L986.1,234.4L986.4,233.7L986.7,232.8L986.8,232.5 M992.1,211.7L992.2,211.1L992.5,210.1L992.7,209.2L992.9,208.3L993.1,207.4L993.4,206.5L993.6,205.6L993.8,204.7L994.0,203.8L994.3,202.8L994.5,201.9L994.7,200.9L994.9,199.9L995.2,198.9L995.4,197.8L995.4,197.6 M999.4,176.2L999.5,175.6L999.7,174.7L999.9,173.8L1000.0,172.9L1000.2,172.1L1000.4,171.4L1000.7,170.3L1000.9,169.6L1001.1,168.9L1001.3,168.3L1001.5,167.7L1001.7,167.1L1002.1,166.0L1002.5,165.1L1002.8,164.2L1003.0,163.9 M1017.4,163.5L1017.8,164.0L1018.3,164.8L1018.9,165.7L1019.4,166.8L1019.7,167.4L1020.0,168.0L1020.3,168.7L1020.6,169.5L1020.8,170.2L1021.1,170.9L1021.4,171.6L1021.6,172.4L1021.9,173.2L1022.1,174.1L1022.4,175.0L1022.7,175.9L1023.0,176.8L1023.1,177.5 M1028.7,197.7L1029.0,198.7L1029.3,199.7L1029.6,200.7L1029.9,201.7L1030.1,202.8L1030.4,203.8L1030.7,204.8L1031.0,205.9L1031.3,206.9L1031.6,207.9L1031.8,208.9L1032.1,209.9L1032.4,210.8 M1040.0,231.9L1040.2,232.5L1040.6,233.4L1040.9,234.3L1041.2,235.3L1041.6,236.2L1041.9,237.1L1042.2,237.9L1042.6,238.8L1043.0,239.7L1043.4,240.5L1043.8,241.4L1044.3,242.2L1044.8,243.0L1045.0,243.3 M1057.7,247.3L1058.3,246.8L1058.9,246.1L1059.5,245.3L1060.1,244.5L1060.8,243.7L1061.4,242.9L1062.0,242.0L1062.5,241.3L1063.1,240.5L1063.2,240.2 M1072.9,220.1L1073.3,219.3L1073.7,218.4L1074.2,217.6L1074.6,216.7L1075.1,215.8L1075.5,215.0L1076.0,214.1L1076.5,213.3L1077.0,212.5L1077.5,211.7L1078.0,211.0L1078.6,210.2L1078.8,209.9 M1093.1,207.3L1093.6,208.0L1094.2,208.8L1094.8,209.6L1095.4,210.5L1096.0,211.3L1096.5,212.2L1097.0,213.0L1097.5,213.8L1097.9,214.6L1098.4,215.4L1098.8,216.3L1099.2,217.1L1099.4,217.5 M1105.1,239.3L1105.2,240.0L1105.4,241.0L1105.7,242.0L1105.9,243.1L1106.1,244.0L1106.3,245.0L1106.5,245.9L1106.7,246.8L1106.9,247.6L1107.2,248.6L1107.3,249.2L1107.5,249.8L1107.6,250.4L1107.8,251.0L1107.9,251.5 M1117.9,242.1L1118.5,241.2L1119.0,240.5L1119.6,239.7L1120.1,238.9L1120.7,238.1L1121.3,237.4L1121.9,236.6L1122.5,235.8L1123.1,235.1L1123.7,234.4L1124.0,234.0 M1140.4,224.0L1141.1,224.1L1142.1,224.4L1143.0,224.9L1143.9,225.4L1144.7,225.9L1145.6,226.6L1146.3,227.3L1146.9,227.9L1147.5,228.6L1148.0,229.4L1148.5,230.2L1148.9,230.7 M1159.7,249.1L1160.1,249.6L1160.8,250.4L1161.6,251.2L1162.3,251.9L1163.0,252.5L1163.7,253.1L1164.4,253.6L1165.0,254.0L1165.0,254.0 M1181.1,242.2L1181.9,241.7L1182.6,241.2L1183.4,240.8L1184.3,240.4L1185.2,240.1L1186.1,239.8L1186.9,239.6L1187.8,239.5L1188.7,239.5L1189.6,239.5L1190.4,239.5L1191.3,239.7L1192.1,239.8L1193.0,240.1L1193.4,240.2 M1211.2,252.0L1211.9,252.4L1212.8,252.9L1213.7,253.3L1214.6,253.8L1215.4,254.2L1216.4,254.7L1217.4,255.2L1218.4,255.8L1219.4,256.3L1220.4,256.8L1221.1,257.2" fill="none" stroke="#7b7b7b" stroke-width="8" stroke-linecap="round" stroke-linejoin="round"/>
<path d="M159.0,280.0L159.8,280.0L160.7,280.0L161.3,280.0L162.0,280.0L162.8,280.0L163.5,280.0L164.3,280.0L165.2,280.0L166.1,280.0L167.0,280.0L167.9,280.0L168.8,280.0L169.8,280.0L170.8,280.0L171.9,280.0L172.9,280.0L174.0,280.0L175.1,280.0L176.2,280.0L177.3,280.0L178.4,280.0L179.5,280.0L180.7,280.0L181.8,280.0L183.0,280.0L184.1,280.0L185.3,280.0L186.4,280.0L187.6,280.0L188.7,280.0L189.9,280.0L191.0,280.0L192.1,280.0L193.2,280.0L194.3,280.0L195.4,280.0L196.4,280.0L197.5,280.0L197.5,280.0 M220.0,280.0L220.7,280.0L221.8,280.0L222.8,280.0L223.9,280.0L224.9,280.0L225.9,280.0L226.9,280.0L227.9,280.0L228.9,280.0L229.9,280.0L230.8,280.0L231.8,280.0L232.7,280.0L233.6,280.0L234.5,280.0L235.3,280.0L236.2,280.0L237.0,280.0L237.8,280.0L238.5,280.0L239.3,280.0L240.0,280.0L240.8,280.0L241.6,280.0L242.3,280.0L243.0,280.0L243.7,280.0L244.3,280.0L244.9,280.0L246.1,280.0L247.1,280.0L248.1,280.0L249.1,280.0L249.9,280.0L250.7,280.0L251.5,280.0L252.3,280.0L253.0,280.0L253.8,279.9L254.5,279.8L255.3,279.7L256.1,279.6 M275.5,273.1L276.3,272.8L277.2,272.5L278.1,272.2L279.0,271.8L279.9,271.4L280.8,271.1L281.7,270.6L282.6,270.2L283.5,269.8L284.5,269.3L285.4,268.8L286.2,268.3L287.0,267.8L287.7,267.3L288.5,266.7L289.3,266.2L290.1,265.7L290.9,265.1L291.6,264.5L292.4,263.9L293.2,263.3L294.0,262.7L294.8,262.0L295.5,261.4L296.3,260.7L297.1,260.1L297.9,259.4L298.7,258.7L299.4,258.0L299.4,258.0 M315.8,240.5L316.4,239.8L317.1,239.0L317.8,238.3L318.5,237.5L319.2,236.8L319.8,236.1L320.4,235.4L321.0,234.7L321.6,234.0L322.2,233.3L322.8,232.6L323.4,231.9L323.9,231.1L324.5,230.3L325.1,229.5L325.7,228.7L326.2,227.9L326.6,227.2L327.1,226.4L327.6,225.6L328.0,224.8L328.5,223.9L328.9,223.1L329.3,222.3L329.8,221.4L330.2,220.5L330.7,219.7L331.2,218.8L331.7,217.9L332.2,217.0L332.8,216.0L333.2,215.4 M347.1,197.2L347.6,196.5L348.2,195.8L348.7,195.1L349.4,194.3L350.1,193.4L350.8,192.5L351.5,191.6L352.2,190.8L352.8,189.9L353.4,189.1L354.1,188.4L354.7,187.6L355.3,186.9L355.9,186.1L356.5,185.4L357.0,184.7L357.6,184.1L358.3,183.4L358.9,182.7L359.5,182.1L360.3,181.3L361.0,180.6L361.8,179.8L362.5,179.1L363.3,178.4L364.0,177.7L364.8,177.1L365.5,176.5L366.3,175.9L367.1,175.3L367.9,174.8L368.7,174.3L369.5,173.9 M392.5,171.9L393.5,172.1L394.4,172.3L395.3,172.4L396.2,172.6L397.2,172.8L398.1,173.0L399.0,173.2L400.0,173.4L401.0,173.7L401.9,173.9L402.9,174.2L403.9,174.5L404.9,174.8L405.9,175.2L406.9,175.6L407.8,176.0L408.6,176.4L409.5,176.8L410.3,177.2L411.2,177.7L412.1,178.2L412.9,178.7L413.8,179.2L414.7,179.7L415.5,180.2L416.4,180.8L417.3,181.3L418.2,181.8L419.0,182.4L419.5,182.7 M437.8,193.2L438.7,193.6L439.6,194.1L440.5,194.6L441.4,195.0L442.2,195.4L443.1,195.9L444.0,196.3L444.9,196.7L445.8,197.2L446.7,197.6L447.6,198.0L448.5,198.5L449.4,198.9L450.3,199.3L451.2,199.8L452.0,200.2L452.9,200.7L453.8,201.1L454.6,201.5L455.5,202.0L456.4,202.4L457.3,202.9L458.1,203.3L459.0,203.8L459.9,204.2L460.8,204.7L461.6,205.1L462.5,205.5L463.4,206.0L463.7,206.1 M481.4,213.4L482.3,213.8L483.3,214.1L484.2,214.4L485.1,214.8L486.1,215.1L487.0,215.4L488.0,215.8L489.0,216.1L490.0,216.4L490.9,216.7L491.9,217.0L492.9,217.4L493.8,217.7L494.8,218.0L495.7,218.3L496.6,218.6L497.6,218.9L498.5,219.2L499.5,219.5L500.4,219.8L501.4,220.0L502.3,220.3L503.2,220.6L504.1,220.8L505.0,221.1L505.9,221.4L506.8,221.6L507.7,221.9L508.6,222.1L509.6,222.4L510.5,222.7L511.5,223.0L511.9,223.1 M531.1,228.6L532.0,228.9L533.0,229.2L533.9,229.5L534.9,229.7L535.9,230.0L536.8,230.3L537.8,230.5L538.7,230.8L539.7,231.1L540.6,231.3L541.6,231.6L542.6,231.9L543.5,232.1L544.5,232.4L545.4,232.7L546.4,233.0L547.3,233.2L548.3,233.5L549.3,233.8L550.3,234.1L551.3,234.3L552.3,234.6L553.3,234.9L554.3,235.2L555.4,235.5L556.4,235.8L557.4,236.1L558.5,236.4L559.4,236.7L560.4,237.0L561.4,237.2L562.1,237.4 M582.2,246.0L583.0,246.5L583.9,247.1L584.7,247.7L585.5,248.2L586.4,248.8L587.2,249.4L588.0,249.9L588.8,250.5L589.6,251.0L590.4,251.4L591.3,251.9L592.1,252.4L593.0,252.8L593.8,253.2L594.7,253.6L595.6,254.0L596.5,254.3L597.4,254.6L598.3,254.9L599.2,255.2L600.1,255.5L601.1,255.7L602.0,255.9L602.9,256.1L603.9,256.3L604.8,256.4L605.8,256.4L606.7,256.4L607.3,256.4 M631.1,253.2L632.1,253.2L633.2,253.2L634.3,253.2L635.4,253.3L636.5,253.3L637.6,253.4L638.7,253.4L639.8,253.5L640.9,253.6L641.9,253.6L642.9,253.7L643.8,253.8L644.7,253.8L645.6,253.9L646.3,254.0L647.5,254.1L648.2,254.1L648.8,254.2L649.4,254.3L650.5,254.4L651.5,254.6L652.3,254.7L653.0,255.0L653.7,255.2L654.3,255.6L655.0,256.0L655.7,256.6L656.2,257.3L656.7,258.2L657.0,259.0L657.4,259.9L657.8,260.8L657.9,261.2 M673.2,270.0L673.8,270.0L674.7,270.0L675.7,270.0L676.7,269.9L677.7,269.9L678.7,269.8L679.8,269.8L680.9,269.7L682.0,269.6L683.0,269.6L684.1,269.5L685.2,269.4L686.3,269.3L687.4,269.2L688.5,269.1L689.5,269.0L690.5,269.0L691.5,268.9L692.5,268.8L693.5,268.6L694.5,268.5L695.5,268.4L696.6,268.2L697.6,268.1L698.7,268.0L699.7,267.8L700.8,267.7L701.8,267.5L702.8,267.4L703.8,267.3L704.8,267.1L705.7,267.0L706.6,266.9L707.5,266.8 M730.2,264.4L731.2,264.2L732.2,264.0L733.2,263.8L734.3,263.7L735.4,263.5L736.5,263.4L737.6,263.2L738.8,263.1L740.0,263.0L740.8,262.9L741.7,262.9L742.6,262.8L743.5,262.8L744.5,262.8L745.5,262.8L746.4,262.7L747.4,262.7L748.4,262.7L749.5,262.7L750.5,262.7L751.5,262.7L752.6,262.7L753.6,262.7L754.7,262.7L755.7,262.7L756.8,262.7L757.8,262.7L758.8,262.7L759.9,262.7L760.9,262.7L761.9,262.7L762.8,262.6L763.8,262.6L764.1,262.6 M788.4,260.5L789.0,260.4L789.9,260.4L790.8,260.4L791.7,260.4L792.6,260.3L793.6,260.3L794.6,260.3L795.6,260.2L796.6,260.2L797.6,260.2L798.7,260.2L799.8,260.2L800.9,260.1L802.0,260.1L803.0,260.1L804.1,260.1L805.3,260.1L806.4,260.1L807.5,260.1L808.6,260.0L809.7,260.0L810.7,260.0L811.8,260.0L812.9,260.0L813.9,260.0L815.0,260.0L816.0,259.9L817.0,259.9L817.9,259.9L818.9,259.9L819.8,259.9L820.7,259.9L821.6,259.8L822.4,259.8L822.4,259.8 M845.9,258.9L846.8,258.8L847.7,258.8L848.6,258.8L849.6,258.8L850.6,258.7L851.6,258.7L852.6,258.6L853.6,258.6L854.7,258.6L855.8,258.5L856.9,258.5L858.0,258.5L859.1,258.4L860.2,258.4L861.3,258.4L862.4,258.3L863.5,258.3L864.7,258.2L865.8,258.2L866.9,258.2L868.0,258.1L869.1,258.1L870.2,258.0L871.2,258.0L872.3,258.0L873.4,257.9L874.4,257.9L875.4,257.8L876.4,257.8L877.3,257.8L878.3,257.7L879.2,257.7L880.1,257.6L880.8,257.6 M904.6,255.9L905.2,255.9L906.1,255.9L907.0,255.8L907.9,255.8L908.8,255.8L909.8,255.8L910.8,255.7L911.8,255.7L912.9,255.7L913.9,255.7L915.0,255.6L916.1,255.6L917.2,255.6L918.3,255.6L919.4,255.5L920.5,255.5L921.6,255.5L922.7,255.5L923.8,255.4L924.9,255.4L926.1,255.4L927.2,255.4L928.3,255.3L929.3,255.3L930.4,255.3L931.5,255.3L932.5,255.3L933.5,255.2L934.5,255.2L935.5,255.2L936.5,255.2L937.4,255.1L938.3,255.1L939.2,255.1L940.0,255.1L940.2,255.1 M962.8,254.0L963.4,254.0L964.3,253.9L965.2,253.9L966.1,253.9L967.1,253.9L968.1,253.9L969.1,253.9L970.2,253.9L971.2,253.9L972.3,253.9L973.4,253.9L974.5,253.8L975.6,253.8L976.8,253.8L977.9,253.8L979.1,253.8L980.2,253.8L981.3,253.8L982.5,253.8L983.6,253.8L984.7,253.8L985.9,253.8L987.0,253.8L988.0,253.8L989.1,253.8L990.2,253.8L991.2,253.8L992.2,253.8L993.2,253.8L994.1,253.9L995.0,253.9L995.9,253.9L996.7,253.9L997.5,253.9L998.3,253.9L999.0,254.0L999.6,254.0 M1017.6,260.8L1018.1,261.4L1018.7,262.1L1019.1,262.9L1019.4,263.7L1019.7,264.5L1020.2,265.3L1020.7,266.0L1021.5,266.7L1022.3,267.2L1023.0,267.5L1023.8,267.8L1024.7,268.1L1025.6,268.3L1026.6,268.6L1027.6,268.8L1028.6,269.0L1029.6,269.2L1030.7,269.4L1031.8,269.6L1032.9,269.7L1033.9,269.9L1035.0,270.0L1035.9,270.1L1036.8,270.2L1037.8,270.3L1038.7,270.4L1039.7,270.5L1040.6,270.6L1041.6,270.7L1042.6,270.7L1043.6,270.8L1044.6,270.8L1045.6,270.8L1046.6,270.8L1047.6,270.7L1048.6,270.7 M1070.1,265.7L1070.9,265.6L1071.9,265.6L1072.9,265.5L1073.9,265.5L1074.9,265.4L1076.0,265.4L1077.0,265.4L1078.0,265.4L1079.1,265.3L1080.2,265.3L1081.2,265.3L1082.2,265.3L1083.3,265.3L1084.3,265.2L1085.3,265.2L1086.3,265.2L1087.2,265.2L1088.2,265.1L1089.1,265.1L1090.0,265.0L1091.1,264.9L1092.2,264.8L1093.2,264.7L1094.2,264.7L1095.2,264.6L1096.2,264.5L1097.1,264.4L1098.1,264.3L1099.0,264.2L1099.9,264.0L1100.8,263.9L1101.8,263.8L1102.7,263.7L1103.6,263.6L1104.5,263.4L1104.9,263.4 M1127.2,259.2L1128.1,259.1L1129.1,259.0L1130.1,258.8L1131.2,258.7L1132.3,258.6L1133.4,258.4L1134.5,258.3L1135.6,258.2L1136.8,258.0L1137.9,257.9L1139.0,257.8L1140.1,257.6L1141.2,257.5L1142.3,257.4L1143.4,257.3L1144.4,257.2L1145.4,257.1L1146.3,257.0L1147.2,256.9L1148.0,256.9L1148.8,256.8L1149.5,256.8L1150.2,256.7L1151.4,256.7L1152.1,256.6L1153.1,256.7L1153.7,256.7L1154.3,257.1L1154.6,257.7L1155.2,258.2L1155.8,258.7L1156.3,259.4L1156.7,259.9L1157.2,260.5L1157.7,261.2L1158.3,261.8 M1173.7,276.2L1174.4,276.8L1175.1,277.6L1175.8,278.3L1176.5,279.1L1177.2,279.8L1177.9,280.6L1178.6,281.3L1179.3,282.1L1179.9,282.8L1180.6,283.6L1181.2,284.3L1181.9,285.0L1182.5,285.8L1183.1,286.5L1183.7,287.2L1184.4,288.0L1185.0,288.8L1185.6,289.6L1186.2,290.4L1186.8,291.2L1187.4,291.9L1187.9,292.7L1188.5,293.5L1189.0,294.2L1189.6,295.0L1190.1,295.8L1190.7,296.6L1191.2,297.4L1191.5,297.9 M1204.4,317.8L1204.9,318.6L1205.4,319.5L1205.9,320.4L1206.4,321.2L1206.9,322.1L1207.5,323.0L1208.0,323.8L1208.5,324.7L1209.0,325.6L1209.5,326.4L1210.0,327.3L1210.5,328.1L1211.0,328.9L1211.5,329.7L1212.0,330.5L1212.4,331.3L1212.9,332.1L1213.5,333.0L1214.0,333.9L1214.5,334.8L1215.0,335.6L1215.5,336.4L1216.0,337.2L1216.4,338.0L1216.9,338.8L1217.4,339.6L1217.9,340.4L1218.3,341.2L1218.8,342.0L1219.3,342.8L1219.8,343.7L1219.8,343.8 M1230.6,365.0L1231.0,365.6L1231.6,366.6L1232.1,367.5L1232.7,368.3L1233.3,369.2L1233.8,370.0L1234.4,370.7L1234.9,371.5L1235.5,372.2L1236.0,372.9L1236.5,373.6L1237.1,374.2L1237.6,374.8L1238.0,375.3L1238.8,376.1L1239.5,376.9L1240.2,377.6L1240.9,378.2L1241.6,378.8L1242.4,379.3L1243.2,379.8L1244.0,380.2L1244.8,380.6L1245.7,381.0L1246.6,381.4L1247.5,381.8L1248.4,382.2L1249.3,382.4L1250.3,382.5L1251.3,382.5L1251.4,382.4 M1265.3,365.7L1265.7,364.8L1266.1,364.0L1266.5,363.1L1266.9,362.2L1267.3,361.3L1267.6,360.4L1268.0,359.5L1268.3,358.5L1268.6,357.6L1269.0,356.7L1269.3,355.7L1269.6,354.8L1269.9,353.9L1270.3,352.9L1270.6,352.0L1270.9,351.0L1271.3,350.1L1271.6,349.2L1272.0,348.3L1272.4,347.4L1272.7,346.5L1273.1,345.6L1273.4,344.6L1273.8,343.7L1274.1,342.8L1274.5,341.9L1274.9,340.9L1275.2,340.0L1275.6,339.1L1275.9,338.1L1276.3,337.2L1276.6,336.3L1277.0,335.3L1277.1,334.9 M1284.5,311.3L1284.7,310.5L1285.0,309.6L1285.3,308.6L1285.5,307.6L1285.8,306.7L1286.0,305.7L1286.3,304.7L1286.6,303.7L1286.8,302.8L1287.1,301.8L1287.3,300.8L1287.6,299.9L1287.9,298.9L1288.1,298.0L1288.4,297.0L1288.6,296.1L1288.9,295.2L1289.2,294.3L1289.5,293.4L1289.8,292.4L1290.1,291.4L1290.4,290.4L1290.7,289.5L1290.9,288.6L1291.2,287.7L1291.5,286.8L1291.8,285.9L1292.1,285.0L1292.4,284.1L1292.7,283.2L1293.0,282.3L1293.4,281.4L1293.7,280.5L1294.0,279.5L1294.2,279.0 M1303.1,257.0L1303.6,256.0L1304.1,255.0L1304.5,254.1L1305.0,253.1L1305.5,252.2L1306.0,251.3L1306.6,250.4L1307.1,249.5L1307.6,248.6L1308.1,247.8L1308.6,246.9L1309.1,246.2L1309.6,245.4L1310.1,244.7L1310.6,244.0L1311.1,243.3L1311.8,242.4L1312.6,241.5L1313.4,240.7L1314.1,239.9L1314.9,239.2L1315.6,238.6L1316.4,238.0L1317.1,237.5L1317.8,237.0L1318.5,236.5L1319.2,236.2L1319.9,235.8L1320.8,235.5L1321.5,235.3L1322.2,235.3L1323.0,235.3L1323.4,235.4 M1345.9,236.3L1346.2,235.7L1346.5,234.9L1346.8,234.0L1347.1,233.0L1347.3,232.0L1347.5,231.0L1347.8,229.9L1348.0,228.8L1348.2,227.7L1348.5,226.6L1348.7,225.4L1349.0,224.3L1349.2,223.5L1349.4,222.6L1349.6,221.7L1349.8,220.8L1350.1,219.9L1350.3,219.0L1350.5,218.0L1350.7,217.1L1350.9,216.1L1351.1,215.1L1351.3,214.2L1351.5,213.1L1351.7,212.1L1351.9,211.1L1352.2,210.1L1352.4,209.0L1352.6,208.0L1352.8,206.9L1353.0,206.4 M1358.9,180.6L1359.1,180.0L1359.4,178.9L1359.6,177.8L1359.9,176.8L1360.2,175.8L1360.5,174.7L1360.7,173.7L1361.0,172.8L1361.3,171.8L1361.6,170.9L1361.9,170.0L1362.2,169.1L1362.5,168.3L1362.8,167.5L1363.1,166.7L1363.5,166.0L1363.8,165.3L1364.1,164.7L1364.4,164.2L1364.8,163.7L1365.1,163.2L1365.8,162.2L1366.5,161.4L1367.3,160.6L1368.0,159.9L1368.7,159.3L1369.5,158.8L1370.1,158.4L1370.8,158.0L1371.5,157.7L1372.2,157.5L1372.8,157.3L1373.7,157.4L1373.7,157.4 M1385.2,178.9L1385.5,179.8L1385.9,180.8L1386.2,181.7L1386.5,182.7L1386.8,183.6L1387.1,184.5L1387.4,185.5L1387.6,186.4L1387.9,187.3L1388.2,188.3L1388.4,189.2L1388.7,190.1L1389.0,191.1L1389.3,192.0L1389.5,192.9L1389.8,193.9L1390.1,194.8L1390.4,195.7L1390.7,196.7L1391.0,197.6L1391.3,198.5L1391.5,199.4L1391.8,200.4L1392.1,201.3L1392.4,202.2L1392.7,203.1L1393.0,204.1L1393.3,205.0L1393.6,205.9L1393.9,206.9L1394.2,207.8L1394.5,208.8L1394.6,209.3 M1403.0,233.9L1403.2,234.6L1403.7,235.6L1404.1,236.6L1404.5,237.7L1404.9,238.7L1405.3,239.7L1405.7,240.6L1406.1,241.6L1406.5,242.5L1406.9,243.4L1407.4,244.2L1407.8,245.1L1408.1,245.8L1408.5,246.5L1408.9,247.2L1409.5,248.1L1409.9,248.7L1410.3,249.3L1410.6,249.8L1411.4,250.7L1412.1,251.4L1412.8,252.0L1413.5,252.5L1414.2,252.7L1415.0,252.8L1415.7,252.8L1416.4,252.6L1417.1,252.3L1417.9,251.9L1418.6,251.4L1419.3,250.7L1420.1,250.0L1420.9,249.1L1421.2,248.6L1421.4,248.4 M1432.2,226.2L1432.6,225.3L1433.0,224.3L1433.3,223.3L1433.7,222.3L1434.1,221.3L1434.5,220.3L1434.9,219.3L1435.3,218.3L1435.7,217.4L1436.0,216.4L1436.4,215.5L1436.8,214.6L1437.2,213.7L1437.7,212.8L1438.1,212.0L1438.5,211.2L1438.9,210.5L1439.4,209.8L1440.0,209.0L1440.3,208.5L1440.7,208.0L1441.1,207.5L1441.5,207.0L1441.9,206.5L1442.3,206.1L1442.7,205.6L1443.5,204.7L1444.4,204.0L1445.2,203.3L1446.0,202.7L1446.9,202.3L1447.7,202.0L1447.8,202.0 M1461.7,221.3L1462.1,222.2L1462.5,223.2L1462.9,224.1L1463.2,225.0L1463.6,226.0L1463.9,226.9L1464.2,227.9L1464.6,228.8L1464.9,229.8L1465.2,230.7L1465.5,231.7L1465.7,232.6L1466.0,233.6L1466.3,234.5L1466.6,235.5L1466.9,236.4L1467.1,237.4L1467.4,238.5L1467.6,239.6L1467.8,240.8L1467.9,241.4L1468.0,242.0L1468.1,242.6L1468.1,243.3L1468.2,243.9L1468.3,244.5L1468.4,245.2L1468.4,245.8L1468.5,246.4L1468.6,247.0L1468.7,247.6L1468.7,248.2L1468.9,249.4L1469.1,250.5L1469.3,251.5L1469.5,252.4L1469.7,253.0 M1484.8,238.9L1485.5,238.0L1486.1,237.1L1486.7,236.3L1487.3,235.4L1487.9,234.5L1488.5,233.7L1489.0,232.9L1489.6,232.0L1490.1,231.2L1490.7,230.4L1491.2,229.6L1491.7,228.9L1492.2,228.1L1492.7,227.4L1493.2,226.7L1493.8,225.9L1494.1,225.4L1494.5,224.9L1494.9,224.4L1495.6,223.5L1496.3,222.6L1497.0,221.8L1497.6,221.0L1498.2,220.2L1498.4,219.9" fill="none" stroke="#3565be" stroke-width="5" stroke-linecap="round" stroke-linejoin="round"/>
</g>
</g></svg>
</body></html>
